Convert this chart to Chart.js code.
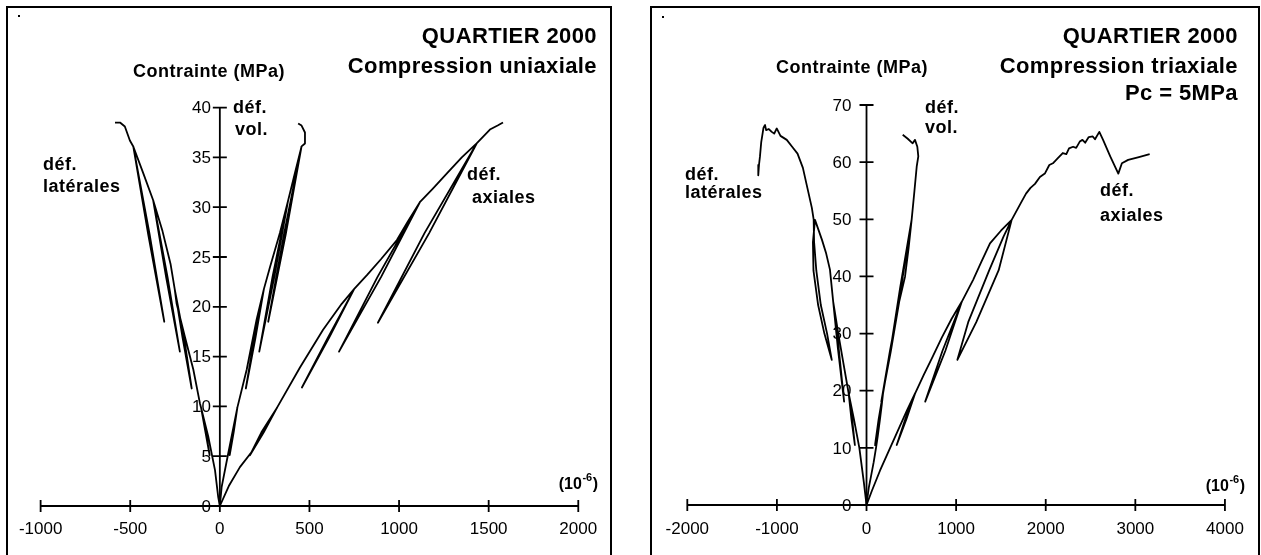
<!DOCTYPE html>
<html>
<head>
<meta charset="utf-8">
<script src="https://cdn.jsdelivr.net/npm/chart.js@4.4.1/dist/chart.umd.min.js"></script>
<style>
  html, body { margin: 0; padding: 0; background: #fff; }
  body { width: 1261px; height: 555px; position: relative; overflow: hidden; }
  .panel { position: absolute; top: 6px; height: 600px; border: 2px solid #000; box-sizing: border-box; }
  canvas { position: absolute; top: 8px; }
</style>
</head>
<body>
<div class="panel" style="left:6px;width:606px"></div>
<div class="panel" style="left:650px;width:610px"></div>
<canvas id="uni" width="602" height="547" style="left:8px"></canvas>
<canvas id="tri" width="606" height="547" style="left:652px"></canvas>
<script>
// ---- uniaxial test (left) : strain in 1e-6, stress in MPa
const uniTicksX = [-1000, -500, 0, 500, 1000, 1500, 2000];
const uniTicksY = [0, 5, 10, 15, 20, 25, 30, 35, 40];

const uniAxialStrain = [0, 50, 112, 185, 320, 245, 168, 232, 320, 447, 576, 680, 750, 610, 458, 600, 750, 822, 900, 988, 1050, 1116, 900, 665, 880, 1116, 1190, 1267, 1350, 1433, 1168, 882, 1142, 1433, 1507, 1550, 1580];
const uniAxialStress = [0, 2.0, 3.9, 5.6, 9.9, 7.4, 5.1, 7.4, 9.9, 13.9, 17.7, 20.3, 21.8, 16.9, 11.9, 16.8, 21.8, 23.2, 24.8, 26.7, 28.6, 30.5, 23.0, 15.5, 23.0, 30.5, 31.9, 33.4, 35.0, 36.4, 27.4, 18.4, 27.4, 36.4, 37.8, 38.2, 38.5];

const uniLatStrain = [0, -9, -27, -65, -105, -82, -57, -78, -105, -111, -148, -195, -241, -252, -208, -157, -198, -252, -275, -320, -372, -300, -223, -292, -372, -427, -483, -400, -310, -392, -483, -502, -530, -557, -585];
const uniLatStress = [0, 0.9, 3.6, 7.0, 9.9, 7.6, 5.1, 7.4, 9.9, 10.3, 13.7, 17.0, 20.3, 21.8, 16.9, 11.8, 16.7, 21.8, 24.3, 27.6, 30.7, 23.0, 15.5, 23.0, 30.7, 33.4, 36.1, 27.3, 18.5, 27.3, 36.1, 36.7, 38.1, 38.5, 38.5];

const uniVolStrain = [0, 10, 47, 98, 78, 55, 72, 98, 150, 205, 246, 198, 145, 190, 246, 280, 335, 380, 304, 220, 294, 380, 420, 456, 368, 270, 358, 456, 475, 475, 456, 437];
const uniVolStress = [0, 1.9, 5.3, 9.9, 7.5, 5.1, 7.4, 9.9, 13.7, 18.7, 21.8, 16.8, 11.8, 16.6, 21.8, 24.0, 27.4, 30.6, 23.0, 15.5, 23.0, 30.6, 33.5, 36.1, 27.3, 18.5, 27.3, 36.1, 36.4, 37.5, 38.2, 38.4];

// ---- triaxial test, Pc = 5 MPa (right)
const triTicksX = [-2000, -1000, 0, 1000, 2000, 3000, 4000];
const triTicksY = [0, 10, 20, 30, 40, 50, 60, 70];

const triAxialStrain = [0, 60, 150, 250, 350, 450, 544, 445, 337, 432, 544, 640, 740, 840, 950, 1064, 880, 655, 848, 1064, 1190, 1280, 1378, 1500, 1620, 1475, 1225, 1014, 1135, 1370, 1530, 1620, 1720, 1780, 1830, 1880, 1935, 1990, 2040, 2080, 2130, 2190, 2230, 2260, 2305, 2340, 2380, 2410, 2440, 2480, 2525, 2550, 2598, 2640, 2720, 2810, 2850, 2920, 3040, 3160];
const triAxialStress = [0, 2.5, 6.0, 9.5, 13.0, 16.5, 19.6, 15.0, 10.5, 15.0, 19.6, 22.8, 26.0, 29.3, 32.6, 35.6, 27.0, 18.1, 27.0, 35.6, 39.4, 42.5, 45.8, 48.0, 49.9, 41.1, 32.0, 25.4, 32.0, 41.1, 47.0, 49.9, 52.8, 54.5, 55.5, 56.2, 57.4, 58.0, 59.5, 59.8, 60.6, 61.6, 61.4, 62.4, 62.7, 62.5, 63.6, 63.9, 63.4, 64.4, 64.5, 64.0, 65.3, 63.9, 61.0, 58.0, 59.8, 60.4, 60.9, 61.4];

const triLatStrain = [0, -30, -80, -140, -200, -168, -130, -160, -200, -260, -315, -372, -320, -250, -311, -372, -408, -450, -497, -575, -598, -592, -540, -470, -388, -440, -510, -560, -585, -590, -610, -660, -710, -770, -830, -890, -960, -1002, -1030, -1058, -1090, -1120, -1133, -1150, -1159, -1175, -1189, -1200, -1208];
const triLatStress = [0, 4.0, 10.0, 15.0, 19.6, 15.0, 10.5, 15.0, 19.6, 25.0, 30.0, 35.6, 27.5, 18.1, 27.5, 35.6, 41.2, 44.0, 46.4, 49.9, 46.0, 41.0, 35.0, 30.0, 25.4, 30.0, 35.0, 41.0, 46.0, 50.0, 52.0, 55.5, 59.0, 61.5, 62.7, 63.9, 64.6, 65.9, 65.0, 65.3, 65.8, 65.6, 66.5, 66.0, 65.1, 63.5, 61.0, 59.5, 57.7];

const triVolStrain = [0, 25, 50, 80, 106, 125, 150, 170, 185, 145, 95, 135, 185, 245, 300, 365, 272, 165, 262, 365, 430, 470, 504, 385, 250, 375, 504, 535, 560, 578, 567, 541, 515, 460, 404];
const triVolStress = [0, 3.0, 5.0, 7.5, 10.0, 12.0, 15.0, 17.5, 19.6, 15.0, 10.5, 15.0, 19.6, 25.0, 30.0, 35.6, 27.0, 18.1, 27.0, 35.6, 40.0, 45.0, 50.0, 38.0, 25.4, 38.0, 50.0, 55.0, 59.2, 61.0, 62.7, 63.9, 63.3, 64.1, 64.8];

const FONT = '"Liberation Sans", Arial, Helvetica, sans-serif';

const toPoints = (xs, ys) => xs.map((x, i) => ({ x, y: ys[i] }));

const curve = (xs, ys) => ({
  data: toPoints(xs, ys),
  showLine: true,
  borderColor: '#000',
  borderWidth: 1.8,
  borderJoinStyle: 'round',
  pointRadius: 0,
  tension: 0,
  fill: false
});

// axes crossing at the origin, ticks on both sides, plus all the texts
const crossAxes = {
  id: 'crossAxes',
  afterDatasetsDraw(chart, args, o) {
    const ctx = chart.ctx;
    const xs = chart.scales.x, ys = chart.scales.y;
    const x0 = xs.getPixelForValue(0), y0 = ys.getPixelForValue(0);
    const xt = o.xTicks, yt = o.yTicks;

    ctx.save();
    ctx.strokeStyle = '#000';
    ctx.lineWidth = 1.8;
    ctx.beginPath();
    ctx.moveTo(xs.getPixelForValue(xt[0]), y0);
    ctx.lineTo(xs.getPixelForValue(xt[xt.length - 1]), y0);
    ctx.moveTo(x0, y0);
    ctx.lineTo(x0, ys.getPixelForValue(yt[yt.length - 1]));
    xt.forEach(v => {
      const p = xs.getPixelForValue(v);
      ctx.moveTo(p, y0 - 6);
      ctx.lineTo(p, y0 + 6);
    });
    yt.forEach(v => {
      if (v === 0) return;
      const p = ys.getPixelForValue(v);
      ctx.moveTo(x0 - 7, p);
      ctx.lineTo(x0 + 7, p);
    });
    ctx.stroke();

    ctx.fillStyle = '#000';
    ctx.font = '17px ' + FONT;
    ctx.textAlign = 'center';
    ctx.textBaseline = 'alphabetic';
    xt.forEach(v => ctx.fillText(String(v), xs.getPixelForValue(v), o.xLabelBase));
    ctx.textAlign = 'right';
    ctx.textBaseline = 'middle';
    yt.forEach(v => ctx.fillText(String(v), x0 - o.yLabelGap, ys.getPixelForValue(v) + 1));

    ctx.textBaseline = 'alphabetic';
    o.texts.forEach(t => {
      ctx.font = t.font;
      ctx.textAlign = t.align;
      ctx.letterSpacing = t.ls || '0px';
      ctx.fillText(t.t, t.x, t.y);
    });
    ctx.letterSpacing = '0px';

    // (10^-6) unit label, right aligned
    const u = o.unit;
    ctx.textAlign = 'left';
    ctx.font = 'bold 16px ' + FONT;
    const wA = ctx.measureText('(10').width, wC = ctx.measureText(')').width;
    ctx.font = 'bold 11px ' + FONT;
    const wB = ctx.measureText('-6').width;
    let x = u.x - wA - wB - wC - 1;
    ctx.font = 'bold 16px ' + FONT;
    ctx.fillText('(10', x, u.y);
    ctx.font = 'bold 11px ' + FONT;
    ctx.fillText('-6', x + wA + 0.5, u.y - 8);
    ctx.font = 'bold 16px ' + FONT;
    ctx.fillText(')', x + wA + wB + 1, u.y);

    ctx.fillRect(o.dot[0], o.dot[1], 2, 2);
    ctx.restore();
  }
};

const makeChart = (id, datasets, xmin, xmax, ymin, ymax, axes) => new Chart(document.getElementById(id), {
  type: 'scatter',
  data: { datasets },
  options: {
    responsive: false,
    animation: false,
    devicePixelRatio: 1,
    events: [],
    layout: { padding: 0 },
    scales: {
      x: { type: 'linear', min: xmin, max: xmax, display: false },
      y: { type: 'linear', min: ymin, max: ymax, display: false }
    },
    plugins: {
      legend: { display: false },
      tooltip: { enabled: false },
      crossAxes: axes
    }
  },
  plugins: [crossAxes]
});

const bold22 = 'bold 22px ' + FONT;
const bold18 = 'bold 18px ' + FONT;

makeChart('uni',
  [curve(uniAxialStrain, uniAxialStress), curve(uniLatStrain, uniLatStress), curve(uniVolStrain, uniVolStress)],
  -1182, 2177, -4.92, 50.0,
  {
    xTicks: uniTicksX, yTicks: uniTicksY, xLabelBase: 526, yLabelGap: 9,
    unit: { x: 590, y: 481 }, dot: [10, 7],
    texts: [
      { t: 'QUARTIER 2000', x: 589, y: 35, align: 'right', font: bold22, ls: '0.4px' },
      { t: 'Compression uniaxiale', x: 589, y: 65, align: 'right', font: bold22, ls: '0.4px' },
      { t: 'Contrainte (MPa)', x: 201, y: 69, align: 'center', font: bold18, ls: '0.5px' },
      { t: 'déf.', x: 35, y: 162, align: 'left', font: bold18, ls: '0.5px' },
      { t: 'latérales', x: 35, y: 184, align: 'left', font: bold18, ls: '0.5px' },
      { t: 'déf.', x: 225, y: 105, align: 'left', font: bold18, ls: '0.5px' },
      { t: 'vol.', x: 227, y: 127, align: 'left', font: bold18, ls: '0.5px' },
      { t: 'déf.', x: 459, y: 172, align: 'left', font: bold18, ls: '0.5px' },
      { t: 'axiales', x: 464, y: 195, align: 'left', font: bold18, ls: '0.5px' }
    ]
  });

makeChart('tri',
  [curve(triAxialStrain, triAxialStress), curve(triLatStrain, triLatStress), curve(triVolStrain, triVolStress)],
  -2394, 4369, -8.75, 86.98,
  {
    xTicks: triTicksX, yTicks: triTicksY, xLabelBase: 526, yLabelGap: 15,
    unit: { x: 593, y: 483 }, dot: [10, 8],
    texts: [
      { t: 'QUARTIER 2000', x: 586, y: 35, align: 'right', font: bold22, ls: '0.4px' },
      { t: 'Compression triaxiale', x: 586, y: 65, align: 'right', font: bold22, ls: '0.4px' },
      { t: 'Pc = 5MPa', x: 586, y: 92, align: 'right', font: bold22, ls: '0.4px' },
      { t: 'Contrainte (MPa)', x: 200, y: 65, align: 'center', font: bold18, ls: '0.5px' },
      { t: 'déf.', x: 33, y: 172, align: 'left', font: bold18, ls: '0.5px' },
      { t: 'latérales', x: 33, y: 190, align: 'left', font: bold18, ls: '0.5px' },
      { t: 'déf.', x: 273, y: 105, align: 'left', font: bold18, ls: '0.5px' },
      { t: 'vol.', x: 273, y: 125, align: 'left', font: bold18, ls: '0.5px' },
      { t: 'déf.', x: 448, y: 188, align: 'left', font: bold18, ls: '0.5px' },
      { t: 'axiales', x: 448, y: 213, align: 'left', font: bold18, ls: '0.5px' }
    ]
  });
</script>
</body>
</html>
